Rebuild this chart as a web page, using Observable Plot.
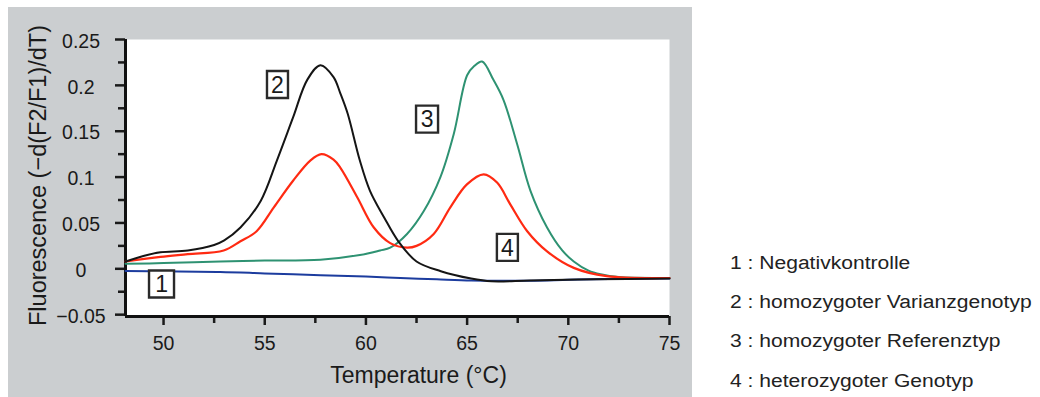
<!DOCTYPE html>
<html><head><meta charset="utf-8">
<script src="https://cdn.jsdelivr.net/npm/d3@7"></script>
<script src="https://cdn.jsdelivr.net/npm/@observablehq/plot@0.6"></script>
<style>
body{margin:0;background:#fff;width:1040px;height:397px;overflow:hidden;position:relative;font-family:"Liberation Sans",Arial,sans-serif;}
#panel{position:absolute;left:8px;top:7px;width:684px;height:390px;background:#cbced0;}
#chart{position:absolute;left:0;top:0;}
#legend{position:absolute;left:730px;top:0;font-size:18px;line-height:18px;color:#222;}
#legend div{position:absolute;left:0;white-space:nowrap;transform:scaleX(1.17);transform-origin:0 50%;}
</style></head><body>
<div id="panel"></div><div id="chart"></div><div id="legend"></div>
<script>
// Domains & ticks
const xDomain = [48.12, 75];
const yDomain = [-0.052, 0.25];
const xTicks = [50, 55, 60, 65, 70, 75];
const xTickLabels = ["50", "55", "60", "65", "70", "75"];
const xMinorTicks = [52.5, 57.5, 62.5, 67.5, 72.5];
const yTicks = [-0.05, 0, 0.05, 0.1, 0.15, 0.2, 0.25];
const yTickLabels = ["\u22120.05", "0", "0.05", "0.1", "0.15", "0.2", "0.25"];
const yMinorTicks = [-0.025, 0.025, 0.075, 0.125, 0.175, 0.225];
const xLabel = "Temperature (°C)";
const yLabel = "Fluorescence (\u2212d(F2/F1)/dT)";

// Series 1: Negativkontrolle (blue)
const t1 = [48.12, 50, 52.8, 55, 57.75, 60, 61.7, 63.5, 65.2, 66.5, 68.1, 70, 72, 75];
const v1 = [-0.0025, -0.0028, -0.0034, -0.005, -0.007, -0.0085, -0.010, -0.0115, -0.0128, -0.013, -0.013, -0.012, -0.011, -0.0105];
// Series 2: homozygoter Varianzgenotyp (black)
const t2 = [48.12, 49.0, 49.85, 51.2, 52.5, 53.0, 53.8, 54.8, 55.6, 56.4, 57.1, 57.75, 58.4, 58.74, 59.1, 59.7, 60.2, 60.9, 61.6, 62.5, 63.7, 65.2, 66.2, 68.1, 71.4, 75];
const v2 = [0.008, 0.014, 0.018, 0.020, 0.026, 0.031, 0.045, 0.074, 0.118, 0.165, 0.206, 0.222, 0.209, 0.191, 0.169, 0.118, 0.085, 0.056, 0.030, 0.008, -0.0026, -0.0106, -0.0136, -0.0128, -0.0114, -0.0106];
// Series 3: homozygoter Referenztyp (green)
const t3 = [48.12, 50, 52.8, 55, 57.75, 59.7, 60.7, 61.2, 62.03, 62.86, 63.68, 64.34, 65.0, 65.35, 65.74, 66.3, 66.8, 67.47, 68.13, 68.95, 69.7, 70.27, 71.0, 71.6, 72.5, 75];
const v3 = [0.0054, 0.0062, 0.008, 0.009, 0.010, 0.015, 0.020, 0.023, 0.038, 0.063, 0.100, 0.147, 0.211, 0.221, 0.226, 0.206, 0.184, 0.136, 0.085, 0.045, 0.020, 0.008, -0.002, -0.006, -0.009, -0.010];
// Series 4: heterozygoter Genotyp (red)
const t4 = [48.12, 49.85, 51.2, 52.97, 53.8, 54.6, 55.45, 56.4, 57.25, 57.8, 58.4, 58.74, 59.57, 60.39, 61.2, 62.03, 62.5, 63.35, 64.17, 64.99, 65.82, 66.48, 67.14, 67.97, 68.95, 70.27, 71.9, 75];
const v4 = [0.008, 0.013, 0.016, 0.020, 0.030, 0.041, 0.067, 0.096, 0.118, 0.125, 0.119, 0.110, 0.078, 0.045, 0.028, 0.023, 0.025, 0.038, 0.067, 0.092, 0.103, 0.094, 0.070, 0.041, 0.019, 0.001, -0.008, -0.010];

// Curve labels (boxed numbers)
const boxText = ["1", "2", "3", "4"];
const boxT = [49.9, 55.63, 63.02, 66.99];
const boxV = [-0.0165, 0.2009, 0.1632, 0.0234];
// box widths in pixels (style)
const boxWidthsPx = [25, 21, 22, 21];

const legendItems = ["1 : Negativkontrolle", "2 : homozygoter Varianzgenotyp", "3 : homozygoter Referenztyp", "4 : heterozygoter Genotyp"];
const legendTops = [254, 293, 331.5, 371.5];

const pts = (t, v) => t.map((x, i) => ({T: x, V: v[i]}));
const boxes = boxText.map((s, i) => ({s, T: boxT[i], V: boxV[i]}));
const rectSymbol = (w) => ({draw(ctx) { ctx.rect(-w / 2, -13.5, w, 27); }});
const ink = "#1a1a1a";

const chart = Plot.plot({
  width: 692, height: 397,
  marginLeft: 125, marginRight: 23, marginTop: 39, marginBottom: 81,
  style: {fontFamily: "Liberation Sans, Arial, sans-serif", fontSize: "18px", background: "transparent", color: ink, overflow: "visible"},
  x: {domain: xDomain, axis: null},
  y: {domain: yDomain, axis: null},
  marks: [
    Plot.frame({fill: "white", stroke: null}),
    Plot.axisY(yMinorTicks, {tickSize: 7, text: null, strokeWidth: 2.5, stroke: ink, label: null}),
    Plot.axisY(yTicks, {tickSize: 10, text: null, strokeWidth: 2.5, stroke: ink, label: null}),
    Plot.axisX(xMinorTicks, {tickSize: 7, text: null, strokeWidth: 2.5, stroke: ink, label: null}),
    Plot.axisX(xTicks, {tickSize: 9, text: null, strokeWidth: 2.5, stroke: ink, label: null}),
    Plot.text(yTicks, {x: xDomain[0], y: (d) => d, text: (d, i) => yTickLabels[i], textAnchor: "middle", dx: -44.5, dy: 2, fontSize: 19.5, fill: ink, ariaLabel: "ytick-labels"}),
    Plot.text(xTicks, {x: (d) => d, y: yDomain[0], text: (d, i) => xTickLabels[i], textAnchor: "middle", dy: 27, fontSize: 19.5, fill: ink, ariaLabel: "xtick-labels"}),
    Plot.ruleX([xDomain[0]], {stroke: "#111", strokeWidth: 3}),
    Plot.ruleY([yDomain[0]], {stroke: "#111", strokeWidth: 3}),
    Plot.line(pts(t1, v1), {x: "T", y: "V", stroke: "#1c3c9e", strokeWidth: 2, curve: "catmull-rom"}),
    Plot.line(pts(t3, v3), {x: "T", y: "V", stroke: "#2e9272", strokeWidth: 2, curve: "catmull-rom"}),
    Plot.line(pts(t4, v4), {x: "T", y: "V", stroke: "#ff2a12", strokeWidth: 2.2, curve: "catmull-rom"}),
    Plot.line(pts(t2, v2), {x: "T", y: "V", stroke: "#151515", strokeWidth: 2, curve: "catmull-rom"}),
    ...boxes.map((b, i) => Plot.dot([b], {x: "T", y: "V", symbol: rectSymbol(boxWidthsPx[i]), r: 5, fill: "white", stroke: "#2a2a2a", strokeWidth: 2.4})),
    Plot.text(boxes, {x: "T", y: "V", text: "s", fontSize: 23, dy: 1, fill: ink, ariaLabel: "box-labels"}),
    Plot.text([xLabel], {frameAnchor: "bottom", dy: 66, dx: 21, text: (d) => d, fontSize: 23, fill: ink}),
    Plot.text([yLabel], {frameAnchor: "left", textAnchor: "middle", dx: -87.5, dy: -2.5, rotate: -90, text: (d) => d, fontSize: 23.5, fill: ink})
  ]
});

function stretch(svg, label, k) {
  svg.querySelectorAll(`g[aria-label="${label}"] text`).forEach((t) => {
    const tr = t.getAttribute("transform");
    if (tr) t.setAttribute("transform", tr + ` scale(${k},1)`);
    else {
      const x = +t.getAttribute("x") || 0, y = +t.getAttribute("y") || 0;
      t.removeAttribute("x"); t.removeAttribute("y");
      t.setAttribute("transform", `translate(${x},${y}) scale(${k},1)`);
    }
  });
}
stretch(chart, "ytick-labels", 1.18);
stretch(chart, "xtick-labels", 1.18);
stretch(chart, "box-labels", 1.12);
document.getElementById("chart").appendChild(chart);

const lg = document.getElementById("legend");
legendItems.forEach((s, i) => {
  const d = document.createElement("div");
  d.textContent = s;
  d.style.top = legendTops[i] + "px";
  lg.appendChild(d);
});
</script>
</body></html>
